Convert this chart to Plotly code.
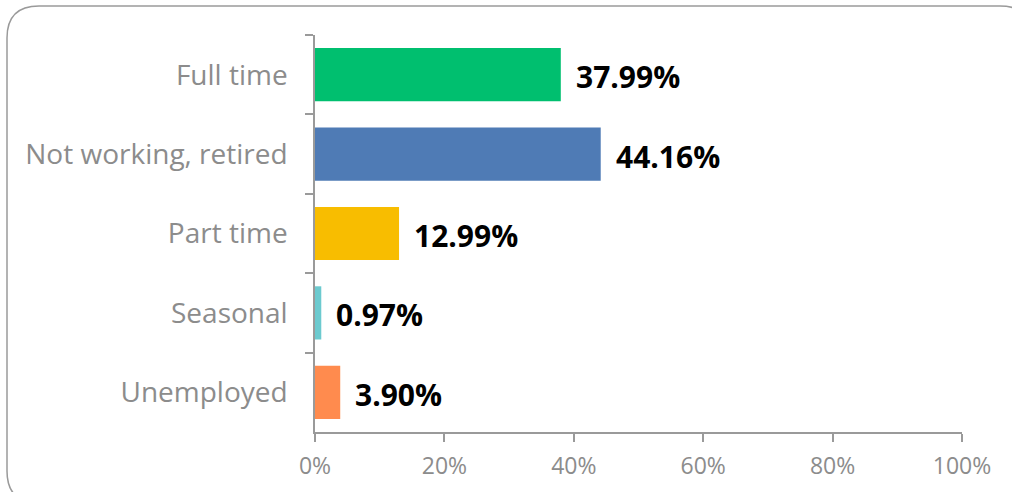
import plotly.graph_objects as go

categories = ["Full time", "Not working, retired", "Part time", "Seasonal", "Unemployed"]
values = [37.99, 44.16, 12.99, 0.97, 3.90]
colors = ["#00BF6F", "#4F7BB5", "#F8BD00", "#6CCACF", "#FF8B4E"]
x_ticks = [0, 20, 40, 60, 80, 100]
x_ticktext = ["0%", "20%", "40%", "60%", "80%", "100%"]

FONT = "Open Sans, sans-serif"
W, H = 1012, 492
L, R, T, B = 315, 50, 35, 60
pw, ph = W - L - R, H - T - B

def px2x(px):
    return (px - L) / pw

def px2y(py):
    return (H - B - py) / ph

fig = go.Figure()
fig.add_trace(go.Bar(
    x=values, y=categories, orientation="h",
    marker=dict(color=colors, line=dict(width=0)),
    hoverinfo="skip",
))

for c, v in zip(categories, values):
    fig.add_annotation(
        x=v, y=c, xref="x", yref="y", text=f"<b>{v:.2f}%</b>",
        showarrow=False, xanchor="left", yanchor="middle", xshift=13, yshift=-2,
        font=dict(family=FONT, size=30, color="#000000"),
    )

# rounded border
x0, y0, x1, y1, r = px2x(7), px2y(6), px2x(1032), px2y(503), 32
rx, ry = r / pw, r / ph
path = (f"M {x0+rx},{y0} L {x1-rx},{y0} Q {x1},{y0} {x1},{y0-ry} "
        f"L {x1},{y1+ry} Q {x1},{y1} {x1-rx},{y1} L {x0+rx},{y1} "
        f"Q {x0},{y1} {x0},{y1+ry} L {x0},{y0-ry} Q {x0},{y0} {x0+rx},{y0} Z")
fig.add_shape(type="path", path=path, xref="paper", yref="paper",
              line=dict(color="#9A9A9A", width=1.5), layer="below")

fig.update_layout(
    width=W, height=H,
    margin=dict(l=L, r=R, t=T, b=B),
    paper_bgcolor="white", plot_bgcolor="white",
    showlegend=False, bargap=0.33,
    xaxis=dict(range=[0, 100], tickvals=x_ticks, ticktext=x_ticktext,
               showgrid=False, zeroline=False, showline=True,
               linecolor="#9A9A9A", linewidth=1.5, ticks="outside", ticklen=8,
               tickcolor="#9A9A9A", tickwidth=1.5, ticklabelstandoff=5,
               tickfont=dict(family=FONT, size=23, color="#8C8C8C")),
    yaxis=dict(autorange="reversed", showgrid=False, zeroline=False, showline=True,
               linecolor="#9A9A9A", linewidth=1.5, ticks="outside", ticklen=8,
               tickcolor="#9A9A9A", tickwidth=1.5, tickson="boundaries",
               ticklabelstandoff=20,
               tickfont=dict(family=FONT, size=28, color="#8C8C8C")),
)

fig.write_html("out.html", config={"displayModeBar": False},
               post_script="document.body.style.margin='0';")
